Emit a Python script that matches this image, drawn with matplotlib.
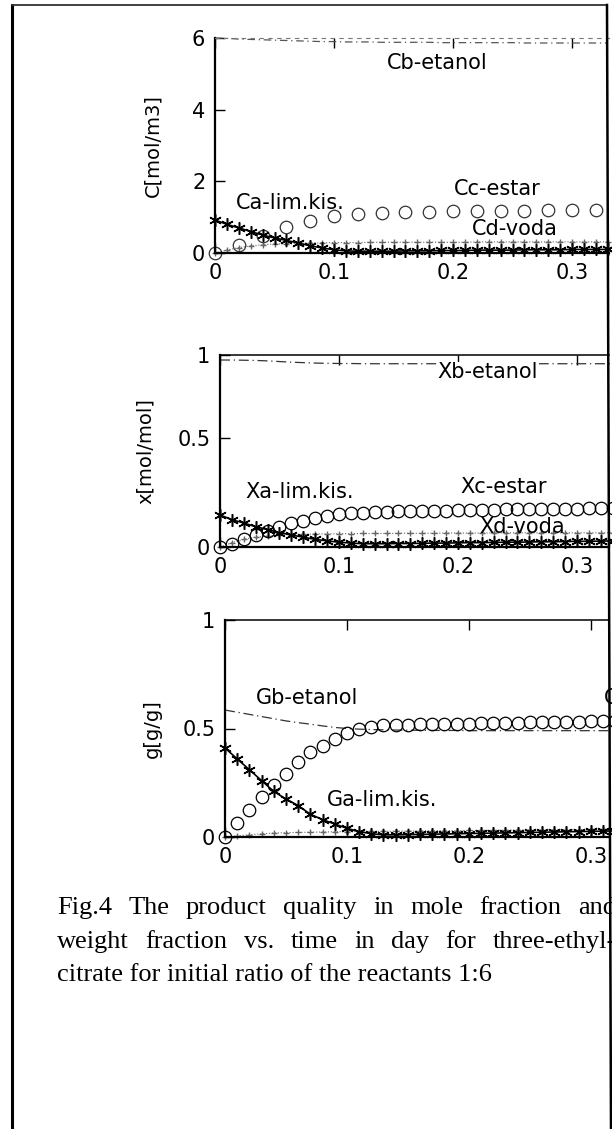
import matplotlib.pyplot as plt
from matplotlib.lines import Line2D

W, H = 612, 1129

# time in days
t = [0.00, 0.01, 0.02, 0.03, 0.04, 0.05, 0.06, 0.07, 0.08, 0.09,
     0.10, 0.11, 0.12, 0.13, 0.14, 0.15, 0.16, 0.17, 0.18, 0.19,
     0.20, 0.21, 0.22, 0.23, 0.24, 0.25, 0.26, 0.27, 0.28, 0.29,
     0.30, 0.31, 0.32, 0.33]

# concentrations C [mol/m3]
Ca = [0.92, 0.80, 0.70, 0.60, 0.50, 0.42, 0.35, 0.28, 0.20, 0.14,
      0.09, 0.06, 0.05, 0.05, 0.05, 0.05, 0.06, 0.06, 0.06, 0.07,
      0.07, 0.07, 0.08, 0.08, 0.08, 0.08, 0.09, 0.09, 0.09, 0.09,
      0.10, 0.10, 0.10, 0.10]
Cb = [6.00, 5.99, 5.97, 5.96, 5.95, 5.94, 5.93, 5.92, 5.91, 5.90,
      5.90, 5.89, 5.89, 5.89, 5.88, 5.88, 5.88, 5.88, 5.88, 5.87,
      5.87, 5.87, 5.87, 5.87, 5.87, 5.87, 5.86, 5.86, 5.86, 5.86,
      5.86, 5.86, 5.86, 5.86]
Cc = [0.00, 0.10, 0.22, 0.35, 0.48, 0.60, 0.72, 0.82, 0.90, 0.97,
      1.02, 1.06, 1.09, 1.10, 1.12, 1.13, 1.14, 1.14, 1.15, 1.15,
      1.16, 1.16, 1.17, 1.17, 1.18, 1.18, 1.18, 1.19, 1.19, 1.19,
      1.20, 1.20, 1.20, 1.21]
Cd = [0.00, 0.08, 0.15, 0.20, 0.23, 0.25, 0.26, 0.27, 0.28, 0.28,
      0.29, 0.29, 0.29, 0.30, 0.30, 0.30, 0.30, 0.30, 0.30, 0.30,
      0.30, 0.30, 0.31, 0.31, 0.31, 0.31, 0.31, 0.31, 0.31, 0.31,
      0.31, 0.31, 0.31, 0.31]

# mole fractions x [mol/mol]
Xa = [0.147, 0.125, 0.110, 0.093, 0.080, 0.066, 0.055, 0.045, 0.035, 0.028,
      0.022, 0.018, 0.015, 0.015, 0.015, 0.016, 0.016, 0.017, 0.018, 0.018,
      0.019, 0.020, 0.020, 0.021, 0.022, 0.022, 0.023, 0.024, 0.024, 0.025,
      0.026, 0.026, 0.027, 0.028]
Xb = [0.857, 0.857, 0.856, 0.855, 0.853, 0.850, 0.847, 0.845, 0.843, 0.842,
      0.841, 0.841, 0.840, 0.840, 0.840, 0.840, 0.840, 0.840, 0.840, 0.840,
      0.840, 0.840, 0.840, 0.840, 0.840, 0.840, 0.840, 0.840, 0.840, 0.840,
      0.840, 0.840, 0.840, 0.840]
Xc = [0.000, 0.015, 0.035, 0.055, 0.075, 0.092, 0.108, 0.120, 0.132, 0.142,
      0.150, 0.155, 0.158, 0.160, 0.162, 0.163, 0.164, 0.165, 0.166, 0.167,
      0.168, 0.169, 0.170, 0.171, 0.172, 0.172, 0.173, 0.174, 0.175, 0.175,
      0.176, 0.177, 0.177, 0.178]
Xd = [0.000, 0.020, 0.035, 0.045, 0.050, 0.055, 0.057, 0.058, 0.060, 0.060,
      0.061, 0.061, 0.062, 0.062, 0.062, 0.063, 0.063, 0.063, 0.063, 0.064,
      0.064, 0.064, 0.064, 0.064, 0.065, 0.065, 0.065, 0.065, 0.065, 0.065,
      0.065, 0.065, 0.065, 0.065]

# weight fractions g [g/g]
Ga = [0.410, 0.360, 0.310, 0.260, 0.210, 0.175, 0.145, 0.105, 0.080, 0.060,
      0.040, 0.025, 0.015, 0.010, 0.010, 0.011, 0.012, 0.013, 0.014, 0.015,
      0.016, 0.017, 0.018, 0.019, 0.020, 0.021, 0.022, 0.023, 0.024, 0.025,
      0.026, 0.027, 0.028, 0.030]
Gb = [0.585, 0.575, 0.565, 0.555, 0.545, 0.535, 0.527, 0.520, 0.512, 0.505,
      0.500, 0.497, 0.495, 0.494, 0.493, 0.492, 0.492, 0.491, 0.491, 0.491,
      0.490, 0.490, 0.490, 0.490, 0.490, 0.490, 0.490, 0.490, 0.490, 0.490,
      0.490, 0.490, 0.490, 0.490]
Gc = [0.000, 0.065, 0.125, 0.185, 0.240, 0.290, 0.345, 0.390, 0.420, 0.450,
      0.480, 0.497, 0.508, 0.515, 0.517, 0.518, 0.519, 0.520, 0.521, 0.522,
      0.523, 0.524, 0.525, 0.526, 0.527, 0.528, 0.529, 0.530, 0.531, 0.532,
      0.533, 0.534, 0.535, 0.536]
Gd = [0.000, 0.005, 0.010, 0.015, 0.018, 0.020, 0.021, 0.022, 0.023, 0.024,
      0.025, 0.025, 0.026, 0.026, 0.027, 0.027, 0.028, 0.028, 0.029, 0.029,
      0.030, 0.030, 0.031, 0.031, 0.032, 0.032, 0.033, 0.033, 0.034, 0.034,
      0.035, 0.035, 0.036, 0.036]

caption = ["Fig.4 The product quality in mole fraction and",
           "weight fraction vs. time in day for three-ethyl-",
           "citrate for initial ratio of the reactants 1:6"]

fig = plt.figure(figsize=(W / 100, H / 100), dpi=100)
star = (6, 2, 0)


def px_axes(left, top, right, bottom):
    return fig.add_axes([left / W, 1 - bottom / H, (right - left) / W, (bottom - top) / H])


def style(ax, xmax, ymax, yticks, ylabels, ylabel, faint_top=False):
    ax.set_xlim(0, xmax)
    ax.set_ylim(0, ymax)
    ax.set_xticks([0, 0.1, 0.2, 0.3])
    ax.set_xticklabels(["0", "0.1", "0.2", "0.3"])
    ax.set_yticks(yticks)
    ax.set_yticklabels(ylabels)
    ax.tick_params(direction="in", top=True, length=7, width=1, labelsize=15, pad=7)
    ax.spines["right"].set_visible(False)
    ax.spines["left"].set_linewidth(1.6)
    ax.spines["bottom"].set_linewidth(1.6)
    if faint_top:
        ax.spines["top"].set_linestyle((0, (3, 5)))
        ax.spines["top"].set_color("#777777")
    else:
        ax.spines["top"].set_linewidth(1.1)
    ax.set_ylabel(ylabel, fontsize=14)
    ax.set_facecolor("none")


# panel 1: concentrations
ax1 = px_axes(215, 38, 609, 253)
ax1.plot(t, Cb, color="#555555", lw=0.9, ls=(0, (6, 3, 1, 3)), clip_on=False)
ax1.plot(t, Cd, color="#666666", lw=0.8, ls=":", marker="+", ms=5, clip_on=False)
ax1.plot(t, Cc, color="#333333", ls="none", marker="o", ms=9, mfc="none", mew=0.9,
         markevery=2, clip_on=False)
ax1.plot(t, Ca, color="black", lw=1.2, marker=star, ms=9, mew=1.1, clip_on=False)
style(ax1, 0.331, 6, [0, 2, 4, 6], ["0", "2", "4", "6"], "C[mol/m3]", faint_top=True)
ax1.text(0.187, 5.3, "Cb-etanol", fontsize=15, ha="center", va="center")
ax1.text(0.237, 1.78, "Cc-estar", fontsize=15, ha="center", va="center")
ax1.text(0.063, 1.4, "Ca-lim.kis.", fontsize=15, ha="center", va="center")
ax1.text(0.252, 0.68, "Cd-voda", fontsize=15, ha="center", va="center")

# panel 2: mole fractions
ax2 = px_axes(220, 355, 609, 547)
ax2.plot(t, Xb, color="#333333", lw=0.9, ls=(0, (8, 3, 1, 3)), clip_on=False)
ax2.plot(t, Xd, color="#666666", lw=0.8, ls=":", marker="+", ms=5, clip_on=False)
ax2.plot(t, Xc, color="black", ls="none", marker="o", ms=9, mfc="none", mew=0.9, clip_on=False)
ax2.plot(t, Xa, color="black", lw=1.2, marker=star, ms=9, mew=1.1, clip_on=False)
style(ax2, 0.327, 0.88, [0, 0.5, 0.88], ["0", "0.5", "1"], "x[mol/mol]")
ax2.text(0.225, 0.80, "Xb-etanol", fontsize=15, ha="center", va="center",
         bbox=dict(fc="white", ec="none", pad=0.5))
ax2.text(0.067, 0.25, "Xa-lim.kis.", fontsize=15, ha="center", va="center")
ax2.text(0.238, 0.275, "Xc-estar", fontsize=15, ha="center", va="center")
ax2.text(0.254, 0.09, "Xd-voda", fontsize=15, ha="center", va="center")

# panel 3: weight fractions
ax3 = px_axes(225, 620, 609, 837)
ax3.plot(t, Gb, color="#333333", lw=0.9, ls=(0, (8, 3, 1, 3)), clip_on=False)
ax3.plot(t, Gd, color="#666666", lw=0.8, ls=":", marker="+", ms=5, clip_on=False)
ax3.plot(t, Gc, color="black", ls="none", marker="o", ms=9, mfc="none", mew=0.9, clip_on=False)
ax3.plot(t, Ga, color="black", lw=1.2, marker=star, ms=9, mew=1.1, clip_on=False)
style(ax3, 0.315, 1.0, [0, 0.5, 1], ["0", "0.5", "1"], "g[g/g]")
ax3.text(0.067, 0.64, "Gb-etanol", fontsize=15, ha="center", va="center")
ax3.text(0.129, 0.17, "Ga-lim.kis.", fontsize=15, ha="center", va="center")
ax3.text(0.311, 0.64, "Gc-estar", fontsize=15, ha="left", va="center")

for ax, xpos in [(ax1, 162), (ax2, 155), (ax3, 162)]:
    bb = ax.get_position()
    ax.yaxis.set_label_coords((xpos - bb.x0 * W) / (bb.width * W), 0.5)

# page frame (the scan is slightly tilted on the right)
fig.add_artist(Line2D([12 / W, 12 / W], [0, 1 - 5 / H], color="black", lw=2.2))
fig.add_artist(Line2D([12 / W, 607 / W], [1 - 5 / H, 1 - 5 / H], color="#333333", lw=1.3))
fig.add_artist(Line2D([611 / W, 607 / W], [0, 1 - 5 / H], color="black", lw=1.8))

# caption, first two lines justified and running past the right edge
cap_y = [908, 942, 975]
left_px, right_px = 57, 616
renderer = fig.canvas.get_renderer()
for i, line in enumerate(caption):
    y = 1 - cap_y[i] / H
    if i == len(caption) - 1:
        fig.text(left_px / W, y, line, fontsize=19, family="Liberation Serif", va="center")
        continue
    words = line.split()
    txts = [fig.text(0, y, w, fontsize=19, family="Liberation Serif", va="center") for w in words]
    widths = [tx.get_window_extent(renderer).width for tx in txts]
    gap = (right_px - left_px - sum(widths)) / (len(words) - 1)
    x = left_px
    for tx, w in zip(txts, widths):
        tx.set_x(x / W)
        x += w + gap

fig.savefig("out.png", dpi=100)
